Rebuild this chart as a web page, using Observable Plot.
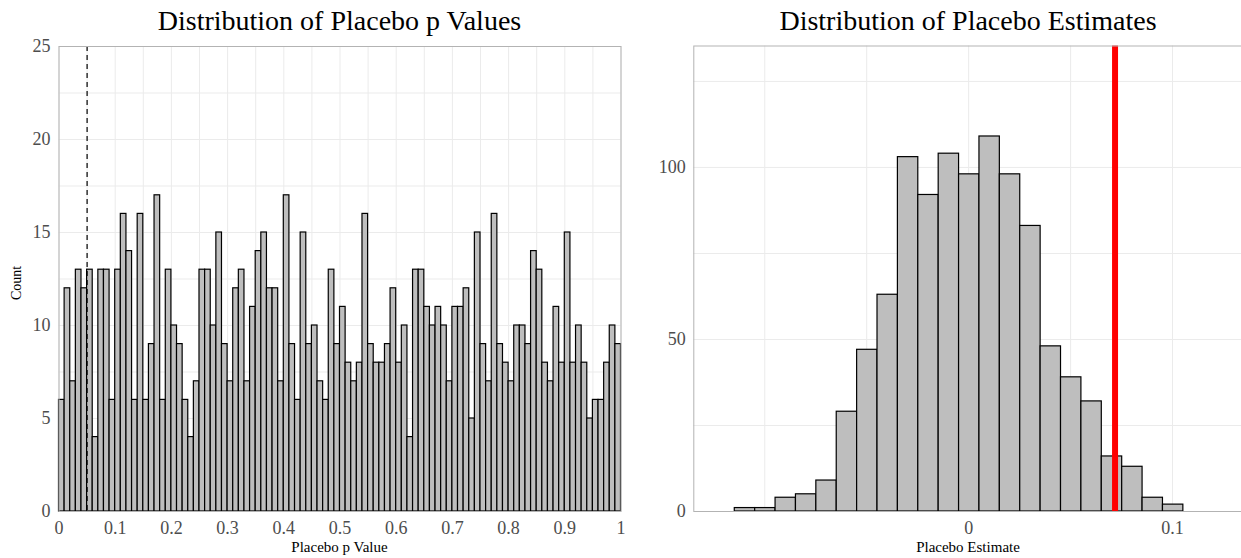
<!DOCTYPE html>
<html><head><meta charset="utf-8">
<script src="https://cdn.jsdelivr.net/npm/d3@7"></script>
<script src="https://cdn.jsdelivr.net/npm/@observablehq/plot@0.6"></script>
<style>
html,body{margin:0;padding:0;background:#fff;overflow:hidden;}
#wrap{position:relative;width:1241px;height:558px;overflow:hidden;font-family:"Liberation Serif",serif;}
#wrap svg{position:absolute;top:0;}
.t{position:absolute;white-space:nowrap;color:#000;line-height:1;font-family:"Liberation Serif",serif;}
</style></head><body><div id="wrap"></div>
<script>
// ---------- Data: left panel (placebo p values, 100 bins of width 0.01) ----------
const pCounts = [
  6,12,7,13,12,13,4,13,13,6,13,16,14,6,16,6,9,17,6,13,10,9,6,4,7,
  13,13,10,15,9,7,12,13,7,11,14,15,12,12,7,17,9,6,15,9,10,7,6,13,9,
  11,8,7,8,16,9,8,8,9,12,8,10,4,13,13,11,10,11,10,7,11,11,12,5,15,
  9,7,16,9,8,7,10,10,9,14,13,8,7,11,8,15,8,10,8,5,6,6,8,10,9
];
const pBinStart = 0, pBinWidth = 0.01;
const pThreshold = 0.05;
const pXTicks = [0,0.1,0.2,0.3,0.4,0.5,0.6,0.7,0.8,0.9,1];
const pYTicks = [0,5,10,15,20,25];

// ---------- Data: right panel (placebo estimates, 22 bins of width 0.01) ----------
const estCounts = [1,1,4,5,9,29,47,63,103,92,104,98,109,98,83,48,39,32,16,13,4,2];
const estBinStart = -0.1147, estBinWidth = 0.01;
const trueEstimate = 0.0718;
const estXTicks = [0, 0.1];
const estYTicks = [0, 50, 100];

const titles = ["Distribution of Placebo p Values", "Distribution of Placebo Estimates"];
const xTitles = ["Placebo p Value", "Placebo Estimate"];
const yTitle = "Count";

// ---------- build ----------
const fmt = d3.format("~g");
const gridColor = "#ebebeb";
const wrap = document.getElementById("wrap");

const leftBins = pCounts.map((c, i) => ({x1: pBinStart + i*pBinWidth, x2: pBinStart + (i+1)*pBinWidth, count: c}));
const estBins = estCounts.map((c, i) => ({x1: estBinStart + i*estBinWidth, x2: estBinStart + (i+1)*estBinWidth, count: c}));

const commonStyle = {fontFamily: "Liberation Serif, serif", fontSize: "18px", color: "#4d4d4d", background: "transparent", overflow: "visible"};

const left = Plot.plot({
  width: 630, height: 558,
  marginLeft: 58.5, marginRight: 9.5, marginTop: 46, marginBottom: 47,
  style: commonStyle,
  x: {domain: [0, 1]},
  y: {domain: [0, 25]},
  marks: [
    Plot.gridX(d3.range(0, 21).map(i => i*0.05), {stroke: gridColor, strokeOpacity: 1, strokeWidth: 1}),
    Plot.gridY(d3.range(0, 11).map(i => i*2.5), {stroke: gridColor, strokeOpacity: 1, strokeWidth: 1}),
    Plot.rectY(leftBins, {x1: "x1", x2: "x2", y: "count", fill: "#bebebe", stroke: "black", strokeWidth: 1.2, inset: 0}),
    Plot.ruleX([pThreshold], {stroke: "black", strokeWidth: 1.2, strokeDasharray: "5,4"}),
    Plot.frame({stroke: "#b3b3b3", strokeWidth: 1}),
    Plot.axisX(pXTicks, {tickSize: 0, tickPadding: 10, tickFormat: fmt, label: null, fontSize: 18}),
    Plot.axisY(pYTicks, {tickSize: 0, tickPadding: 8.5, tickFormat: fmt, label: null, fontSize: 18})
  ]
});
left.style.left = "0px";
wrap.appendChild(left);

const right = Plot.plot({
  width: 603, height: 558,
  marginLeft: 53.3, marginRight: 0, marginTop: 45.5, marginBottom: 47,
  style: commonStyle,
  x: {domain: [-0.1348, 0.1348]},
  y: {domain: [0, 135.3]},
  marks: [
    Plot.gridX([-0.1, -0.05, 0, 0.05, 0.1], {stroke: gridColor, strokeOpacity: 1, strokeWidth: 1}),
    Plot.gridY([25, 50, 75, 100, 125], {stroke: gridColor, strokeOpacity: 1, strokeWidth: 1}),
    Plot.rectY(estBins, {x1: "x1", x2: "x2", y: "count", fill: "#bebebe", stroke: "black", strokeWidth: 1.2, inset: 0}),
    Plot.ruleX([trueEstimate], {stroke: "red", strokeWidth: 6}),
    Plot.frame({stroke: "#b3b3b3", strokeWidth: 1}),
    Plot.axisX(estXTicks, {tickSize: 0, tickPadding: 10, tickFormat: fmt, label: null, fontSize: 18}),
    Plot.axisY(estYTicks, {tickSize: 0, tickPadding: 8, tickFormat: fmt, label: null, fontSize: 18})
  ]
});
right.style.left = "640px";
wrap.appendChild(right);

function addText(txt, cx, baseline, size, rotate) {
  const d = document.createElement("div");
  d.className = "t";
  d.textContent = txt;
  d.style.fontSize = size + "px";
  d.style.left = cx + "px";
  d.style.top = (baseline - 0.891*size) + "px";
  d.style.transform = rotate ? "translate(-50%,0) rotate(-90deg)" : "translate(-50%,0)";
  if (rotate) { d.style.top = (baseline - size/2) + "px"; d.style.transformOrigin = "50% 50%"; }
  wrap.appendChild(d);
}
addText(titles[0], 339.5, 32, 28);
addText(titles[1], 968, 32, 28);
addText(xTitles[0], 339.5, 553, 15);
addText(xTitles[1], 968, 553, 15);
addText(yTitle, 17, 283, 14, true);
</script></body></html>
